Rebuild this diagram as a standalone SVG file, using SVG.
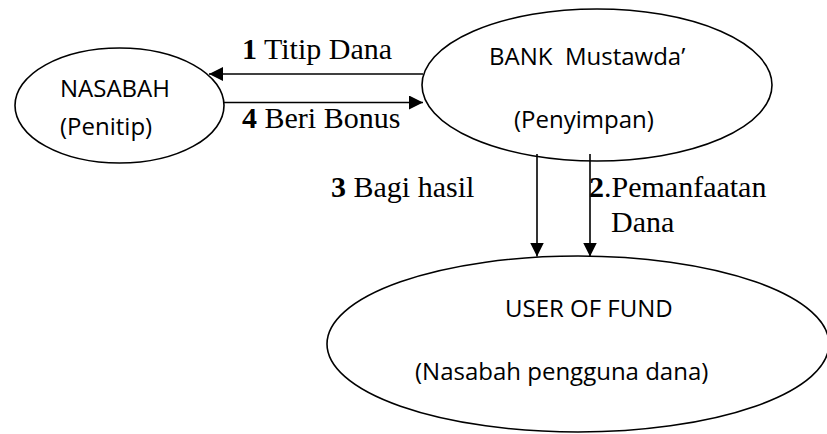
<svg xmlns="http://www.w3.org/2000/svg" width="827" height="434" viewBox="0 0 827 434">
<style>
.node{fill:#fff;stroke:#000;stroke-width:1.6}
.sans{font-family:"Open Sans","Liberation Sans",sans-serif;font-size:24px;fill:#000}
.serif{font-family:"Liberation Serif","Times New Roman",serif;font-size:30px;fill:#000}
.conn{stroke:#000;stroke-width:1.6;fill:none}
.b{font-weight:bold}
</style>
<defs>
<marker id="ah" viewBox="0 0 14 14" refX="14" refY="7" markerWidth="14" markerHeight="14" markerUnits="userSpaceOnUse" orient="auto">
<path d="M0,0 L14,7 L0,14 Z" fill="#000"/>
</marker>
</defs>
<g id="nasabah">
<ellipse class="node" cx="119.5" cy="105.5" rx="104.5" ry="57.5"/>
<text class="sans" x="60" y="97">NASABAH</text>
<text class="sans" x="60" y="135">(Penitip)</text>
</g>
<g id="bank">
<ellipse class="node" cx="597" cy="85" rx="175" ry="76"/>
<text class="sans" x="489" y="65" xml:space="preserve">BANK  Mustawda’</text>
<text class="sans" x="514" y="128">(Penyimpan)</text>
</g>
<g id="user">
<ellipse class="node" cx="578" cy="344" rx="251" ry="88"/>
<text class="sans" x="505" y="317">USER OF FUND</text>
<text class="sans" x="415" y="380">(Nasabah pengguna dana)</text>
</g>
<g id="connectors">
<line class="conn" x1="423" y1="74" x2="209" y2="74" marker-end="url(#ah)"/>
<line class="conn" x1="224" y1="102.5" x2="423" y2="102.5" marker-end="url(#ah)"/>
<line class="conn" x1="537" y1="154" x2="537" y2="256.5" marker-end="url(#ah)"/>
<line class="conn" x1="590" y1="154" x2="590" y2="256.5" marker-end="url(#ah)"/>
<text class="serif" x="242" y="59"><tspan class="b">1</tspan> Titip Dana</text>
<text class="serif" x="242" y="128"><tspan class="b">4</tspan> Beri Bonus</text>
<text class="serif" x="331" y="197"><tspan class="b">3</tspan> Bagi hasil</text>
<text class="serif" x="589" y="197"><tspan class="b">2</tspan>.Pemanfaatan</text>
<text class="serif" x="611" y="232">Dana</text>
</g>
</svg>
